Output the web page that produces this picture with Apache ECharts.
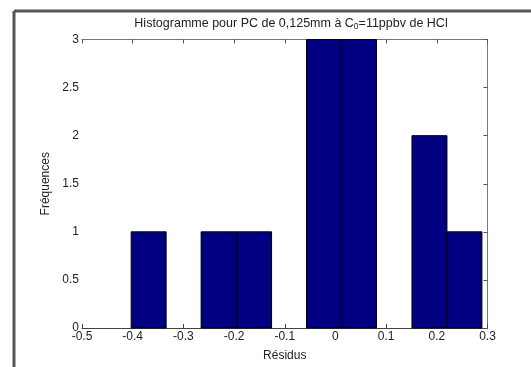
<!DOCTYPE html>
<html>
<head>
<meta charset="utf-8">
<script src="https://cdn.jsdelivr.net/npm/echarts@6/dist/echarts.min.js"></script>
<style>
html,body{margin:0;padding:0;background:#fff;}
#chart{width:531px;height:367px;}
</style>
</head>
<body>
<div id="chart"></div>
<script>
// Histogram bin edges (Résidus) and counts (Fréquences)
var binEdges = [-0.403, -0.334, -0.265, -0.195, -0.126, -0.057, 0.012, 0.081, 0.151, 0.220, 0.289];
var counts = [1, 0, 1, 1, 0, 3, 3, 0, 2, 1];
var xTicks = [-0.5, -0.4, -0.3, -0.2, -0.1, 0, 0.1, 0.2, 0.3];
var yTicks = [0, 0.5, 1, 1.5, 2, 2.5, 3];

var data = [];
for (var i = 0; i < counts.length; i++) {
  if (counts[i] > 0) data.push([binEdges[i], binEdges[i + 1], counts[i]]);
}

var font = '"Liberation Sans", Arial, sans-serif';
var chart = echarts.init(document.getElementById('chart'), null, {renderer: 'canvas'});
var tickLabel = {color: '#222', fontFamily: font, fontSize: 12, margin: 3};

chart.setOption({
  animation: false,
  backgroundColor: '#fff',
  title: {
    text: 'Histogramme pour PC de 0,125mm à C{sub|0}=11ppbv de HCl',
    left: 286, top: 11, textAlign: 'center',
    textStyle: {
      fontFamily: font, fontSize: 12.5, fontWeight: 'normal', color: '#222',
      rich: {sub: {fontFamily: font, fontSize: 8.5, color: '#222', verticalAlign: 'bottom', padding: [6, 0, 0, 0]}}
    }
  },
  grid: {left: 82, right: 43.5, top: 39.5, bottom: 34.5, containLabel: false},
  xAxis: [{
    type: 'value', min: -0.5, max: 0.3, interval: 0.1,
    name: 'Résidus', nameLocation: 'middle', nameGap: 22,
    nameTextStyle: {fontFamily: font, fontSize: 12, color: '#222'},
    axisLine: {show: true, lineStyle: {color: '#444', width: 1}},
    axisTick: {show: true, inside: true, length: 4, lineStyle: {color: '#444'}},
    axisLabel: Object.assign({}, tickLabel, {
      formatter: function (v) { return xTicks.indexOf(Math.round(v * 10) / 10) >= 0 ? String(Math.round(v * 10) / 10) : ''; }
    }),
    splitLine: {show: false}
  }, {
    type: 'value', position: 'top', min: -0.5, max: 0.3, interval: 0.1,
    axisLine: {show: true, onZero: false, lineStyle: {color: '#777', width: 1}},
    axisTick: {show: true, inside: true, length: 4, lineStyle: {color: '#555'}},
    axisLabel: {show: false}, splitLine: {show: false}
  }],
  yAxis: [{
    type: 'value', min: 0, max: 3, interval: 0.5,
    name: 'Fréquences', nameLocation: 'middle', nameGap: 29, nameRotate: 90,
    nameTextStyle: {fontFamily: font, fontSize: 12, color: '#222'},
    axisLine: {show: true, lineStyle: {color: '#444', width: 1}},
    axisTick: {show: true, inside: true, length: 4, lineStyle: {color: '#444'}},
    axisLabel: Object.assign({}, tickLabel, {
      formatter: function (v) { return yTicks.indexOf(v) >= 0 ? String(v) : ''; }
    }),
    splitLine: {show: false}
  }, {
    type: 'value', position: 'right', min: 0, max: 3, interval: 0.5,
    axisLine: {show: true, onZero: false, lineStyle: {color: '#777', width: 1}},
    axisTick: {show: true, inside: true, length: 4, lineStyle: {color: '#555'}},
    axisLabel: {show: false}, splitLine: {show: false}
  }],
  graphic: [
    {type: 'line', shape: {x1: 14, y1: 11, x2: 531, y2: 11}, style: {stroke: '#555', lineWidth: 3}, z: 0},
    {type: 'line', shape: {x1: 14, y1: 11, x2: 14, y2: 367}, style: {stroke: '#555', lineWidth: 3}, z: 0}
  ],
  series: [{
    type: 'custom',
    xAxisIndex: 0, yAxisIndex: 0,
    data: data,
    encode: {x: [0, 1], y: 2},
    renderItem: function (params, api) {
      var p0 = api.coord([api.value(0), api.value(2)]);
      var p1 = api.coord([api.value(1), 0]);
      return {
        type: 'rect',
        shape: {x: p0[0], y: p0[1], width: p1[0] - p0[0], height: p1[1] - p0[1]},
        style: {fill: '#000080', stroke: '#000', lineWidth: 1}
      };
    }
  }]
});
</script>
</body>
</html>
